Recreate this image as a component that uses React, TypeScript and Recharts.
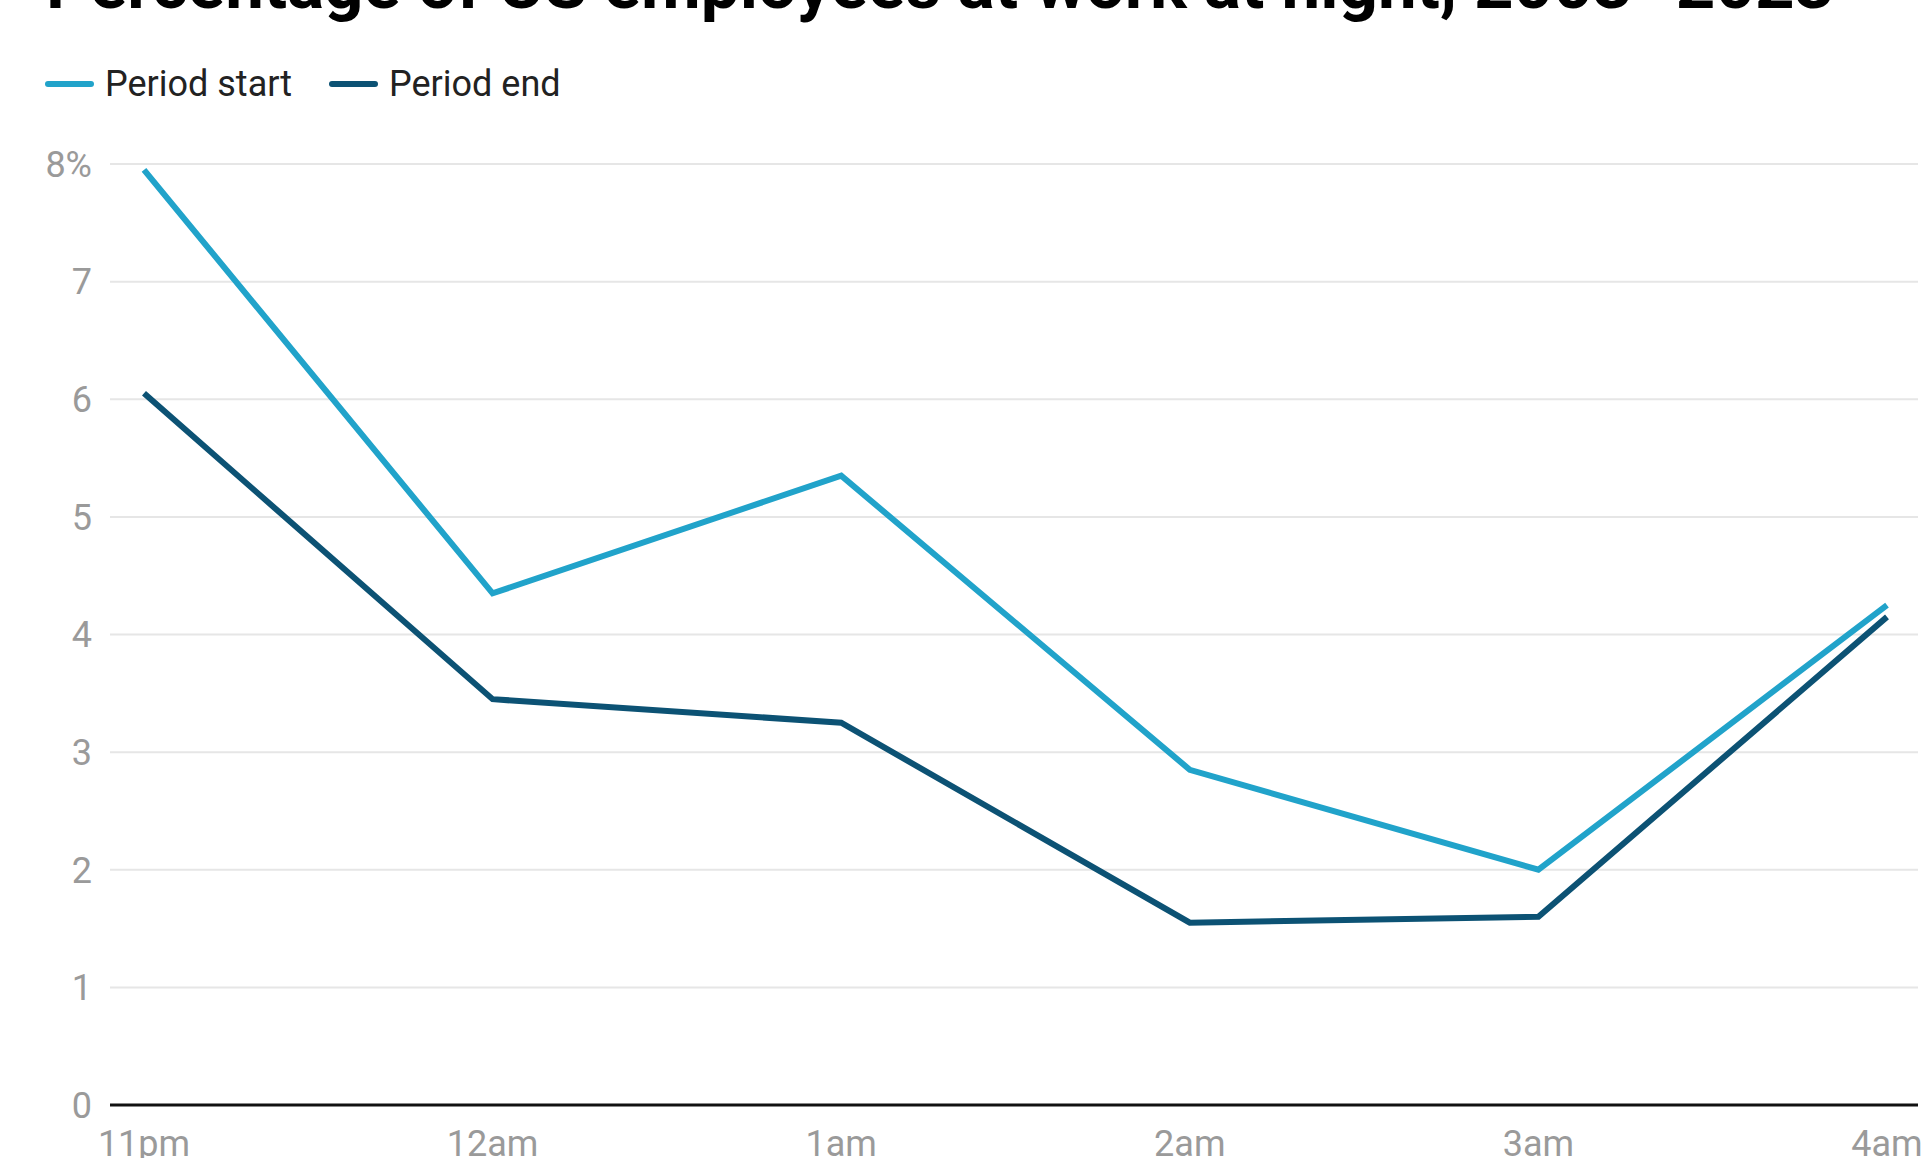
import { LineChart, Line, XAxis, YAxis, CartesianGrid } from "recharts";

const hours = ["11pm", "12am", "1am", "2am", "3am", "4am"];
const periodStart = [7.95, 4.35, 5.35, 2.85, 2.0, 4.25];
const periodEnd = [6.05, 3.45, 3.25, 1.55, 1.6, 4.15];
const yTicks = [0, 1, 2, 3, 4, 5, 6, 7, 8];

const LIGHT = "#21a3ca";
const DARK = "#0c5274";
const FONT = "Roboto, 'Noto Sans', sans-serif";

const data = hours.map((h, i) => ({ hour: h, start: periodStart[i], end: periodEnd[i] }));

const legendItems = [
  { label: "Period start", color: LIGHT, x: 45 },
  { label: "Period end", color: DARK, x: 329 },
];

export default function App() {
  return (
    <div style={{ position: "absolute", left: 0, top: 0, width: 1925, height: 1158, overflow: "hidden", background: "#fff" }}>
      <svg width={1925} height={40} style={{ position: "absolute", left: 0, top: 0 }}>
        <text x={46} y={8} fontFamily={FONT} fontWeight={700} fontSize={69} fill="#000">
          Percentage of US employees at work at night, 2003–2023
        </text>
      </svg>
      {/* legend sits above the plot, outside the chart's own layout */}
      <div style={{ position: "absolute", left: 0, top: 59, width: 1925, height: 50, fontFamily: FONT }}>
        {legendItems.map((it) => (
          <div key={it.label} style={{ position: "absolute", left: it.x, top: 0, display: "flex", alignItems: "center", height: 50 }}>
            <span style={{ display: "inline-block", width: 49, height: 6, borderRadius: 3, background: it.color }} />
            <span style={{ marginLeft: 11, fontSize: 36, color: "#222" }}>{it.label}</span>
          </div>
        ))}
      </div>
      <LineChart width={1925} height={1158} data={data} margin={{ top: 164, right: 7, bottom: 23, left: 0 }}>
        <CartesianGrid vertical={false} stroke="#e6e6e6" strokeWidth={2} />
        <XAxis
          dataKey="hour"
          height={30}
          padding={{ left: 34, right: 31 }}
          tickLine={false}
          tickSize={0}
          tickMargin={25}
          axisLine={{ stroke: "#111", strokeWidth: 3 }}
          tick={{ fontSize: 36, fill: "#9a9a9a", fontFamily: FONT }}
          interval={0}
        />
        <YAxis
          width={110}
          domain={[0, 8]}
          ticks={yTicks}
          tickFormatter={(v) => (v === 8 ? "8%" : String(v))}
          axisLine={false}
          tickLine={false}
          tickSize={0}
          tickMargin={18}
          tick={{ fontSize: 36, fill: "#9a9a9a", fontFamily: FONT }}
        />
        <Line dataKey="start" name="Period start" stroke={LIGHT} strokeWidth={6} dot={false} isAnimationActive={false} />
        <Line dataKey="end" name="Period end" stroke={DARK} strokeWidth={6} dot={false} isAnimationActive={false} />
      </LineChart>
    </div>
  );
}
